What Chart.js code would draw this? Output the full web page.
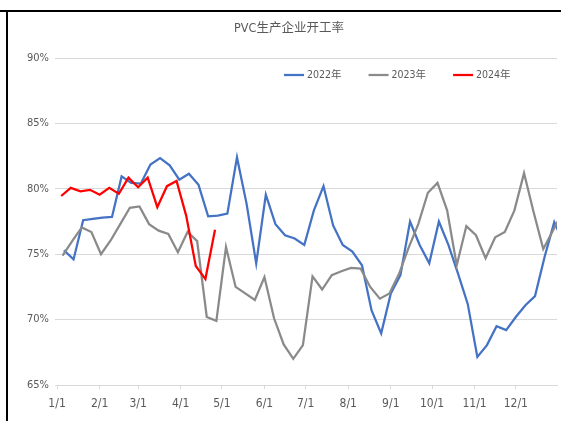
<!DOCTYPE html>
<html><head><meta charset="utf-8">
<script src="https://cdn.jsdelivr.net/npm/chart.js@4.4.1/dist/chart.umd.min.js"></script>
<style>html,body{margin:0;padding:0;background:#fff;}#wrap{width:561px;height:421px;position:relative;}</style>
</head><body><div id="wrap"><canvas id="c" width="561" height="421"></canvas></div>
<script>
const chartTitle = 'PVC生产企业开工率';
const seriesNames = ['2022年', '2023年', '2024年'];
const seriesColors = ['#4472C4', '#8A8A8A', '#FF0000'];
// day-of-year of the first weekly reading (a Thursday each year)
const firstWeekDay = [5, 4, 3];
const rate2022 = [75.3, 74.6, 77.6, 77.7, 77.8, 77.85, 80.95, 80.45, 80.4, 81.85, 82.35, 81.8, 80.7,
  81.15, 80.3, 77.9, 77.95, 78.1, 82.4, 78.85, 74.3, 79.55, 77.3, 76.45, 76.2, 75.7,
  78.35, 80.2, 77.2, 75.7, 75.2, 74.15, 70.7, 68.95, 72.0, 73.4, 77.5, 75.7, 74.3,
  77.5, 75.7, 73.5, 71.2, 67.15, 68.05, 69.5, 69.2, 70.2, 71.1, 71.8, 74.8, 77.45, 75.8];
const rate2023 = [74.9, 76.0, 77.05, 76.7, 75.0, 76.05, 77.3, 78.55, 78.65, 77.3, 76.8, 76.55, 75.15,
  76.7, 76.0, 70.2, 69.9, 75.55, 72.5, 72.0, 71.5, 73.25, 70.1, 68.1, 67.0, 68.05,
  73.3, 72.3, 73.4, 73.7, 73.95, 73.9, 72.5, 71.6, 72.0, 73.5, 75.5, 77.3, 79.7,
  80.45, 78.35, 74.15, 77.15, 76.45, 74.7, 76.3, 76.7, 78.35, 81.2, 78.2, 75.4, 76.8, 78.2];
const rate2024 = [79.45, 80.07, 79.8, 79.92, 79.55, 80.07, 79.62, 80.85, 80.12, 80.85, 78.6, 80.2, 80.6,
  77.95, 74.1, 73.1, 76.87];
const monthTickDays = [0, 31, 59, 90, 120, 151, 181, 212, 243, 273, 304, 334];
const monthTickLabels = ['1/1', '2/1', '3/1', '4/1', '5/1', '6/1', '7/1', '8/1', '9/1', '10/1', '11/1', '12/1'];
const yTickValues = [65, 70, 75, 80, 85, 90];

const FONT = "'Liberation Sans Narrow', 'Arial Narrow', 'DejaVu Sans Condensed', 'Liberation Sans', 'Noto Sans CJK SC', sans-serif";
const allRates = [rate2022, rate2023, rate2024];
const weekly = (vals, start) => vals.map((v, i) => ({ x: start + 7 * i, y: v }));

const datasets = allRates.map((vals, k) => ({
  label: seriesNames[k],
  data: weekly(vals, firstWeekDay[k]),
  borderColor: seriesColors[k],
  backgroundColor: seriesColors[k],
  borderWidth: 2.25,
  pointRadius: 0,
  tension: 0,
  fill: false,
  order: 2 - k
}));

const framePlugin = {
  id: 'frame',
  beforeDraw(chart) {
    const ctx = chart.ctx;
    ctx.save();
    ctx.fillStyle = '#fff';
    ctx.fillRect(0, 0, chart.width, chart.height);
    ctx.restore();
  },
  afterDraw(chart) {
    const ctx = chart.ctx;
    ctx.save();
    ctx.strokeStyle = '#000';
    ctx.lineWidth = 2;
    ctx.beginPath();
    ctx.moveTo(0, 11); ctx.lineTo(chart.width, 11);
    ctx.moveTo(7, 10); ctx.lineTo(7, chart.height);
    ctx.stroke();
    ctx.restore();
  }
};

const inlineLegend = {
  id: 'inlineLegend',
  afterDatasetsDraw(chart) {
    const ctx = chart.ctx;
    const area = chart.chartArea;
    let x = area.left + 229;
    const y = area.top + 17;
    ctx.save();
    ctx.font = '10.5px ' + FONT;
    ctx.textBaseline = 'middle';
    chart.data.datasets.forEach(ds => {
      ctx.strokeStyle = ds.borderColor;
      ctx.lineWidth = 2.25;
      ctx.beginPath();
      ctx.moveTo(x, y); ctx.lineTo(x + 20, y);
      ctx.stroke();
      ctx.fillStyle = '#595959';
      ctx.fillText(ds.label, x + 23, y);
      x += 23 + ctx.measureText(ds.label).width + 27;
    });
    ctx.restore();
  }
};

new Chart(document.getElementById('c'), {
  type: 'line',
  data: { datasets },
  options: {
    responsive: false,
    animation: false,
    devicePixelRatio: 1,
    layout: { padding: { left: 21, right: 4, top: 0, bottom: 0 } },
    plugins: {
      legend: { display: false },
      tooltip: { enabled: false },
      title: {
        display: true,
        text: chartTitle,
        color: '#595959',
        font: { family: FONT, size: 12.5, weight: 'normal' },
        padding: { top: 21, bottom: 22 }
      }
    },
    scales: {
      x: {
        type: 'linear',
        min: -1.5,
        max: 364,
        afterBuildTicks: s => { s.ticks = monthTickDays.map(v => ({ value: v })); },
        afterFit: s => { s.height = 36; },
        ticks: {
          autoSkip: false, maxRotation: 0, padding: 8,
          color: '#595959',
          font: { family: FONT, size: 12 },
          callback: (v, i) => monthTickLabels[i]
        },
        grid: { drawOnChartArea: false, drawTicks: true, tickLength: 4, color: '#d9d9d9' },
        border: { display: true, color: '#d9d9d9' }
      },
      y: {
        min: 65,
        max: 90,
        afterBuildTicks: s => { s.ticks = yTickValues.map(v => ({ value: v })); },
        afterFit: s => { s.width = 34; },
        ticks: {
          padding: 6,
          color: '#595959',
          font: { family: FONT, size: 11 },
          callback: v => v + '%'
        },
        grid: { drawTicks: false, color: '#d9d9d9' },
        border: { display: false }
      }
    }
  },
  plugins: [framePlugin, inlineLegend]
});
</script>
</body></html>
